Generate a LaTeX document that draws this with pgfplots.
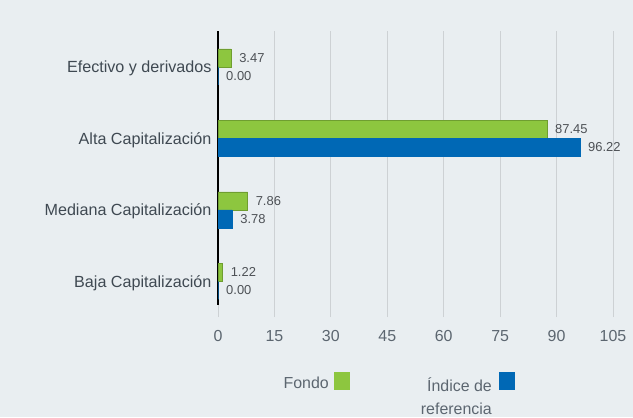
\documentclass[border=0pt]{standalone}
\usepackage{pgfplots}
\pgfplotsset{compat=1.18}
\usepackage{fontspec}
\setmainfont{Liberation Sans}
\definecolor{bgc}{HTML}{E9EEF1}
\definecolor{fgreen}{HTML}{8DC63F}
\definecolor{fgreenb}{HTML}{6F9E30}
\definecolor{fblue}{HTML}{0068B5}
\definecolor{fblueb}{HTML}{0A4E8A}
\definecolor{gridc}{HTML}{CDD1D4}
\definecolor{tickc}{HTML}{5C6670}
\definecolor{catc}{HTML}{3F4952}
\definecolor{valc}{HTML}{4D5156}
\begin{document}
\begin{tikzpicture}[x=1bp,y=1bp]
\fill[bgc] (0,0) rectangle (633,417);
\begin{axis}[
  at={(218bp,100bp)}, anchor=south west,
  scale only axis, width=395bp, height=286bp,
  xbar, bar width=18bp,
  xmin=0, xmax=105, ymin=-0.5, ymax=3.5,
  xtick={0,15,...,105},
  ytick={0,1,2,3},
  yticklabels={Baja Capitalización, Mediana Capitalización, Alta Capitalización, Efectivo y derivados},
  major tick length=0pt,
  axis line style={draw=none},
  xmajorgrids, major grid style={gridc, line width=1bp},
  /pgf/number format/assume math mode=true,
  x tick label style={font=\fontsize{16}{19}\selectfont, text=tickc, anchor=north, yshift=-10bp},
  y tick label style={font=\fontsize{16.2}{19}\selectfont, text=catc, anchor=base east, xshift=-3bp, yshift=-5.8bp},
  clip=false,
  nodes near coords={\pgfmathprintnumber[fixed,precision=2,zerofill]{\pgfplotspointmeta}},
  nodes near coords style={font=\fontsize{13}{15}\selectfont, text=valc, anchor=west, inner sep=0pt, xshift=8bp},
  point meta=x,
]
\draw[black, line width=1.2bp] (axis cs:0,3.5) -- (axis cs:0,-0.332);
\addplot[fill=fgreen, draw=fgreenb, bar shift=9bp] coordinates {(1.22,0) (7.86,1) (87.45,2) (3.47,3)};
\addplot[fill=fblue, draw=fblue, bar shift=-9bp] coordinates {(0.00,0) (3.78,1) (96.22,2) (0.00,3)};
\end{axis}
\node[anchor=east, inner sep=0pt, text=tickc, font=\fontsize{16}{19}\selectfont] at (329,34) {Fondo};
\fill[fgreen] (334,27) rectangle (350,45);
\node[anchor=north east, inner sep=0pt, align=right, text=tickc, font=\fontsize{16}{24}\selectfont] at (492,40) {Índice de\\referencia};
\fill[fblue] (499,27) rectangle (515,45);
\end{tikzpicture}
\end{document}
